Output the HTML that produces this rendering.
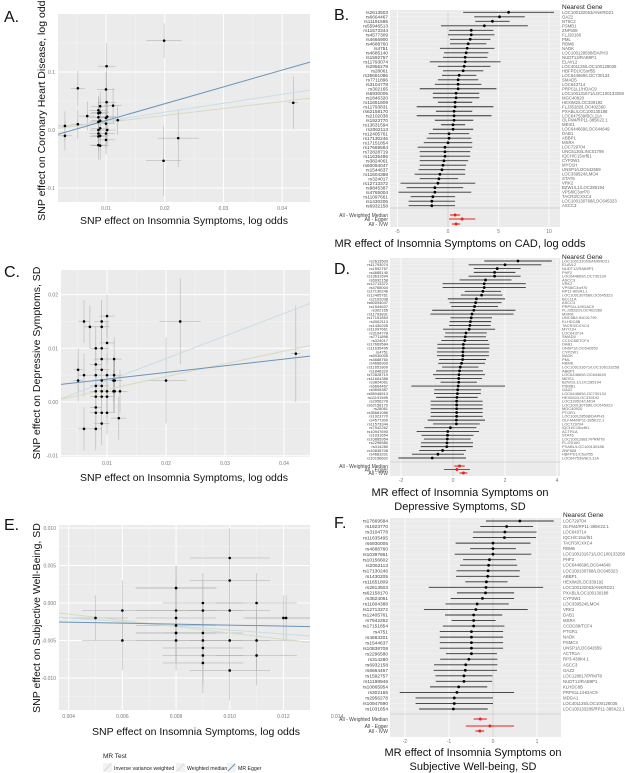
<!DOCTYPE html>
<html><head><meta charset="utf-8">
<style>
html,body{margin:0;padding:0;background:#fff;}
svg{display:block;font-family:"Liberation Sans",sans-serif;}
</style></head>
<body>
<svg id="fig" width="625" height="773" viewBox="0 0 625 773" xmlns="http://www.w3.org/2000/svg">
<g font-size="16" fill="#111">
<text x="4" y="22">A.</text>
<text x="334" y="20">B.</text>
<text x="4" y="277">C.</text>
<text x="334" y="274">D.</text>
<text x="4" y="530">E.</text>
<text x="334" y="528">F.</text>
</g>
<g font-size="10.5" fill="#111" text-anchor="middle">
<text x="184" y="224">SNP effect on Insomnia Symptoms, log odds</text>
<text transform="translate(45,108) rotate(-90)">SNP effect on Coronary Heart Disease, log odds</text>
<text x="184" y="481">SNP effect on Insomnia Symptoms, log odds</text>
<text transform="translate(40,363) rotate(-90)">SNP effect on Depressive Symptoms, SD</text>
<text x="196" y="735">SNP effect on Insomnia Symptoms, log odds</text>
<text transform="translate(40,618) rotate(-90)">SNP effect on Subjective Well-Being, SD</text>
<text x="460" y="247" font-size="11">MR effect of Insomnia Symptoms on CAD, log odds</text>
<text x="460" y="496" font-size="11">MR effect of Insomnia Symptoms on</text>
<text x="460" y="510" font-size="11">Depressive Symptoms, SD</text>
<text x="473" y="756" font-size="11">MR effect of Insomnia Symptoms on</text>
<text x="473" y="770" font-size="11">Subjective Well-being, SD</text>
</g>
<g font-size="5.2" fill="#222">
<text x="103" y="758" font-size="6.5">MR Test</text>
<rect x="103" y="763" width="9" height="9" fill="#f2f2f2"/>
<line x1="104" y1="771" x2="111" y2="764" stroke="#c8dde6" stroke-width="1"/>
<text x="114" y="770">Inverse variance weighted</text>
<rect x="176" y="763" width="9" height="9" fill="#f2f2f2"/>
<line x1="177" y1="771" x2="184" y2="764" stroke="#d5dcc0" stroke-width="1"/>
<text x="187" y="770">Weighted median</text>
<rect x="227" y="763" width="9" height="9" fill="#f2f2f2"/>
<line x1="228" y1="771" x2="235" y2="764" stroke="#6a93b8" stroke-width="1"/>
<text x="238" y="770">MR Egger</text>
</g>
</svg>
<script>
// ---------- Panel A data ----------
const aX=[0.0199,0.0101,0.0052,0.0100,0.0101,0.0112,0.0030,0.0030,0.0052,0.0068,0.0087,0.0087,0.0087,0.0087,0.0087,0.0087,0.0087,0.0087,0.0090,0.0090,0.0090,0.0090,0.0090,0.0090,0.0100,0.0100,0.0100,0.0100,0.0102,0.0102,0.0120,0.0223,0.0198,0.0419];
const aY=[0.154,0.110,0.072,0.070,0.048,0.042,0.007,-0.010,0.010,0.024,0.034,0.029,0.022,0.014,0.000,-0.006,-0.011,-0.026,0.041,0.030,0.016,0.003,-0.010,-0.027,0.021,0.011,-0.006,-0.017,0.023,0.000,0.017,-0.014,-0.053,0.047];
const aXe=[0.003,0.0015,0.0012,0.0015,0.0015,0.0015,0.0012,0.0012,0.0012,0.0014,0.0015,0.0015,0.0015,0.0015,0.0015,0.0015,0.0015,0.0015,0.0015,0.0015,0.0015,0.0015,0.0015,0.0015,0.0015,0.0015,0.0015,0.0015,0.0015,0.0015,0.0015,0.0035,0.003,0.0008];
const aYe=[0.03,0.04,0.03,0.03,0.03,0.03,0.025,0.025,0.025,0.025,0.025,0.025,0.025,0.025,0.025,0.025,0.025,0.025,0.025,0.025,0.025,0.025,0.025,0.025,0.025,0.025,0.025,0.025,0.025,0.025,0.025,0.05,0.06,0.045];
const aXTicks=[0.01,0.02,0.03,0.04];
const aXLabels=["0.01","0.02","0.03","0.04"];
const aYTicks=[0.1,0,-0.1];
const aYLabels=["0.1","0.0","-0.1"];
const aIvw=[1.53,0.0002];
const aWm=[1.2,0.001];
const aEgger=[2.9,-0.0127];

// ---------- Panel C data ----------
const cX=[0.0100,0.0061,0.0091,0.0071,0.0091,0.0100,0.0081,0.0091,0.0091,0.0112,0.0081,0.0051,0.0091,0.0061,0.0081,0.0100,0.0112,0.0051,0.0091,0.0111,0.0113,0.0081,0.0091,0.0081,0.0091,0.0100,0.0111,0.0113,0.0122,0.0081,0.0091,0.0100,0.0081,0.0081,0.0091,0.0100,0.0120,0.0091,0.0061,0.0081,0.0224,0.0200,0.0420];
const cY=[0.016,0.015,0.015,0.014,0.014,0.011,0.010,0.010,0.008,0.008,0.007,0.006,0.006,0.005,0.005,0.005,0.005,0.004,0.004,0.004,0.004,0.003,0.003,0.002,0.002,0.002,0.002,0.002,0.002,0.001,0.001,0.001,-0.001,-0.002,-0.002,-0.002,-0.003,-0.004,-0.005,-0.005,0.015,0.004,0.009];
const cXe=[0.0013,0.0010,0.0013,0.0010,0.0013,0.0013,0.0010,0.0013,0.0013,0.0013,0.0010,0.0008,0.0013,0.0010,0.0010,0.0013,0.0013,0.0008,0.0013,0.0013,0.0013,0.0010,0.0013,0.0010,0.0013,0.0013,0.0013,0.0013,0.0013,0.0010,0.0013,0.0013,0.0010,0.0010,0.0013,0.0013,0.0013,0.0013,0.0010,0.0010,0.0035,0.0035,0.0008];
const cYe=[0.004,0.004,0.004,0.004,0.004,0.004,0.004,0.004,0.004,0.004,0.004,0.004,0.004,0.004,0.004,0.004,0.004,0.004,0.004,0.004,0.004,0.004,0.004,0.004,0.004,0.004,0.004,0.004,0.004,0.004,0.004,0.004,0.004,0.004,0.004,0.004,0.004,0.004,0.004,0.004,0.008,0.008,0.009];
const cXTicks=[0.01,0.02,0.03,0.04];
const cXLabels=["0.01","0.02","0.03","0.04"];
const cYTicks=[0.02,0.01,0,-0.01];
const cYLabels=["0.02","0.01","0.00","-0.01"];
const cIvw=[0.42,-0.0003];
const cWm=[0.237,0.0];
const cEgger=[0.125,0.0030];

// ---------- Panel E data ----------
const eX=[0.0050,0.0060,0.0060,0.0080,0.0080,0.0080,0.0080,0.0080,0.0080,0.0080,0.0080,0.0090,0.0090,0.0090,0.0090,0.0090,0.0090,0.0090,0.0100,0.0100,0.0100,0.0100,0.0100,0.0110,0.0110,0.0110,0.0120,0.0121];
const eY=[-0.002,-0.001,-0.005,0.002,0.002,-0.002,-0.001,-0.003,-0.004,-0.004,-0.005,0.000,-0.001,-0.004,-0.005,-0.006,-0.007,-0.008,0.006,0.003,-0.001,-0.005,-0.009,0.000,-0.005,-0.007,-0.002,-0.002];
const eXe=[0.0012,0.0015,0.0015,0.0015,0.0015,0.0015,0.0015,0.0015,0.0015,0.0015,0.0015,0.0015,0.0015,0.0015,0.0015,0.0015,0.0015,0.0015,0.0015,0.0015,0.0015,0.0015,0.0015,0.0015,0.0015,0.0015,0.0015,0.0015];
const eYe=[0.003,0.004,0.004,0.003,0.003,0.004,0.004,0.004,0.004,0.004,0.004,0.004,0.004,0.004,0.004,0.004,0.004,0.004,0.004,0.004,0.004,0.004,0.004,0.004,0.004,0.004,0.003,0.003];
const eXTicks=[0.004,0.006,0.008,0.010,0.012,0.014];
const eXLabels=["0.004","0.006","0.008","0.010","0.012","0.014"];
const eYTicks=[0.010,0.005,0,-0.005,-0.010];
const eYLabels=["0.010","0.005","0.000","-0.005","-0.010"];
const eIvw=[-0.27,-0.0009];
const eWm=[-0.42,0.0002];
const eEgger=[-0.065,-0.0023];

// ---------- Panel B data ----------
const bSnps=["rs2613503","rs6664467","rs11191595","rs55946513","rs11573344","rs4577309","rs4666900","rs4688760","rs4751","rs4685140","rs1592757","rs11793074","rs2956278","rs28061","rs35681086","rs7711896","rs3104778","rs302165","rs6930005","rs1846320","rs11651809","rs11793831","rs62158170","rs2102038","rs1923770","rs13631594","rs2062113","rs12405761","rs17130246","rs17151854","rs17669584","rs72828719","rs11635495","rs3824061","rs60094047","rs1544637","rs11604388","rs324017","rs12713372","rs9845387","rs4765004","rs11097661","rs1430205","rs6932158"];
const bGenes=["LOC100132053/ANKRD21","OAZ2","NT5C2","PSMB1","ZNF608","FLJ20160","PML","RBM6","NADK","LOC100128508/DAPH3","NUDT12/RAB9P1","ELAVL2","LOC401125/LOC100128035","HBFPD1/C5orf55","LOC644669/LOC730134","SMAD5","LOC643714","PRPS1L1/HDAC9","LOC100131671/LOC100133258","MGC40920","HEXIM2/LOC339192","FLJ35282/LOC402360","PXABL/LOC100130188","LOC647539/BCL11A","OLFM4/RP11-385K22.1","MEIS1","LOC644669/LOC644649","DAB1","ABBP1","MSRA","LOC729704","UNC5130/LINC01799","IQCH/C15orf61","CYP2W1","MYO1H","UNSP1/LOC642659","LOC339524/LMO4","STAT6","VRK2","BZW1/L1/LOC285194","VPS8/C3orf70","TACR3/CXXC4","LOC100130768/LOC645323","ASCC3"];
const bEst=[6.0,5.1,4.4,3.6,2.3,2.3,2.2,2.0,1.9,1.8,1.7,1.7,1.6,1.5,1.1,1.0,1.0,1.0,0.8,0.8,0.7,0.7,0.6,0.6,0.6,0.5,0.5,0.1,0.1,0.0,-0.3,-0.3,-0.3,-0.4,-0.5,-0.6,-0.8,-0.9,-1.0,-1.3,-1.3,-1.5,-1.6,-1.6];
const bHw=[4.5,2.5,1.7,4.3,2.2,2.3,2.0,1.8,2.7,2.2,2.2,3.5,2.6,2.0,1.7,2.0,2.3,3.8,2.3,2.3,1.7,3.8,1.8,3.7,1.9,1.2,2.0,2.0,2.2,2.4,2.7,2.5,2.5,2.4,2.3,2.3,2.5,1.9,3.7,2.8,3.6,2.2,2.3,2.3];
const bSumNames=["All - Weighted Median","All - Egger","All - IVW"];
const bSumEst=[0.7,1.4,0.8];
const bSumHw=[0.5,1.3,0.4];
const bTicks=[-5,0,5,10];
const bTickLabels=["-5","0","5","10"];

// ---------- Panel D data ----------
const dSnps=["rs2613503","rs11793074","rs1592757","rs4685140","rs13631594","rs6932158","rs12713372","rs4765004","rs17130246","rs12405761","rs2102038","rs60094047","rs1544637","rs302165","rs11793831","rs17151854","rs2062113","rs1430205","rs11097661","rs3104778","rs7711896","rs324017","rs17669584","rs11635495","rs4751","rs6930005","rs4688760","rs4666900","rs11651809","rs1846320","rs72828719","rs11604388","rs3824061","rs6664467","rs9845387","rs55946513","rs11191595","rs2956278","rs62158170","rs28061","rs35681086","rs1923770","rs4577309","rs11573344","rs7942262","rs10947690","rs1031654","rs10865954","rs2296580","rs314280","rs10838708","rs4683201","rs10156602"];
const dGenes=["LOC100132053/ANKRD21","ELAVL2","NUDT12/RAB9P1","PHF2","LOC644669/LOC730134","ASCC3","VRK2","VPS8/C3orf70","RP11-809A1.1","LOC100130768/LOC645323","BCL11A","ASCC3","PRPS1L1/HDAC9","FLJ35282/LOC402360","MSRA","UNC5B/LINC01799","KLHDC8B","TACR3/CXXC4","MYO1H","LOC643714","SMAD5","CCDC88/TCF4","DAB1","UNSP1/LOC642659","CYP2W1","NADK","PML","RBM6","LOC100131671/LOC100133258","ABBP1","LOC644669/LOC644649","MEIS1","BZW1/L1/LOC285194","PSMB1","OAZ2","LOC644669/LOC730134","HEXIM2/LOC339192","LOC339524/LMO4","LOC100130768/LOC645323","MGC40920","PTGR1","LOC100128508/DAPH3","OLFM4/RP11-385K22.1","LOC729704","IQCH/C15orf61","ACTR1A","STAT6","LOC100128817/PRMT8","FLJ20160","PXABL/LOC100130188","ZNF608","HBFPD1/C5orf55","LOC647539/BCL11A"];
const dEst=[2.5,2.0,1.7,1.6,1.6,1.25,1.2,1.2,1.15,1.1,0.9,0.87,0.83,0.8,0.73,0.7,0.67,0.65,0.62,0.5,0.47,0.45,0.4,0.4,0.38,0.38,0.37,0.33,0.28,0.25,0.23,0.22,0.22,0.2,0.18,0.17,0.15,0.14,0.14,0.14,0.14,0.14,0.13,0.13,-0.1,-0.2,-0.21,-0.22,-0.23,-0.24,-0.4,-0.58,-0.8];
const dHw=[1.3,1.4,0.9,0.8,1.0,1.0,1.6,1.6,0.7,0.8,1.1,1.0,0.9,1.6,1.6,0.8,0.8,0.8,1.0,0.8,0.8,0.9,1.0,1.0,1.0,1.0,0.9,0.9,0.7,0.9,1.0,0.9,0.7,1.8,0.9,0.9,0.8,1.0,1.0,1.0,1.0,1.0,1.1,0.9,1.0,1.2,1.0,0.9,1.0,1.0,0.9,1.0,1.3];
const dSumNames=["All - Weighted Median","All - Egger","All - IVW"];
const dSumEst=[0.25,0.15,0.4];
const dSumHw=[0.2,0.5,0.15];
const dTicks=[-2,0,2,4];
const dTickLabels=["-2","0","2","4"];

// ---------- Panel F data ----------
const fSnps=["rs17669584","rs1923770","rs3104778","rs11635495","rs6930005","rs4688760","rs10397861","rs10156602","rs2062113","rs17130246","rs1430205","rs11651809","rs2613503","rs62158170","rs3824061","rs11604388","rs12713372","rs12405761","rs7942262","rs17151854","rs4751","rs4683201","rs1544637","rs10838708","rs2296580","rs314280","rs6932158","rs6664467","rs1592757","rs11198946","rs10865954","rs302165","rs2956278","rs10947690","rs1031654"];
const fGenes=["LOC729704","OLFM4/RP11-385K22.1","LOC643714","IQCH/C15orf61","TACR3/CXXC4","RBM6","LOC100131671/LOC100133258","PHF2","LOC644669/LOC644649","LOC100130768/LOC645323","ABBP1","HEXIM2/LOC339192","LOC100132053/ANKRD21","PXABL/LOC100130188","CYP2W1","LOC339524/LMO4","VRK2","DAB1","MSRA","CCDC88/TCF4","PTGR1","NADK","PSMC3","UNSP1/LOC642659","ACTR1A","RP3-438K4.1","ASCC3","OAZ2","LOC128817/PRMT8","NUDT12/RAB9P1","KLHDC8B","PRPS1L1/HDAC9","MDGA1","LOC401125/LOC100128035","LOC100133285/RP11-385K22.1"];
const fEst=[0.61,0.31,0.27,0.26,0.0,0.0,0.0,-0.08,-0.1,-0.11,-0.12,-0.15,-0.16,-0.17,-0.24,-0.36,-0.39,-0.44,-0.44,-0.44,-0.49,-0.49,-0.49,-0.49,-0.49,-0.55,-0.62,-0.63,-0.66,-0.66,-0.78,-0.82,-0.88,-0.88,-0.9];
const fHw=[0.77,0.6,0.72,0.72,0.85,0.52,0.87,0.6,0.65,0.72,0.72,0.48,1.3,0.65,0.72,0.72,1.18,0.65,0.5,0.7,0.72,0.72,0.72,0.72,0.58,0.65,0.72,0.72,0.65,0.64,0.65,1.3,0.88,0.88,0.78];
const fSumNames=["All - Weighted Median","All - Egger","All - IVW"];
const fSumEst=[-0.29,-0.07,-0.3];
const fSumHw=[0.15,0.55,0.1];
const fTicks=[-2,-1,0,1];
const fTickLabels=["-2","-1","0","1"];

const NS="http://www.w3.org/2000/svg";
const svg=document.getElementById('fig');
function mk(tag,attrs,parent){const e=document.createElementNS(NS,tag);for(const k in attrs)e.setAttribute(k,attrs[k]);(parent||svg).appendChild(e);return e;}

function scatter(id,C,X,Y,Xe,Ye,xT,xL,yT,yL,ivw,wm,egger){
  const g=mk('g',{});
  
  
  const sx=v=>C.px0+(v-C.dx0)/(C.dx1-C.dx0)*(C.px1-C.px0);
  const sy=v=>C.py1-(v-C.dy0)/(C.dy1-C.dy0)*(C.py1-C.py0);
  const bg=mk('rect',{x:C.px0,y:C.py0,width:C.px1-C.px0,height:C.py1-C.py0,fill:'#ebebeb'},g);
  
  
  const clipId='clip'+id;
  const cp=mk('clipPath',{id:clipId},g);mk('rect',{x:C.px0,y:C.py0,width:C.px1-C.px0,height:C.py1-C.py0},cp);
  const inner=mk('g',{'clip-path':'url(#'+clipId+')'},g);
  const xs=xT[1]-xT[0], ys=yT[0]-yT[1];
  for(let v=xT[0]-xs*3;v<=xT[xT.length-1]+xs*3;v+=xs){
    mk('line',{x1:sx(v+xs/2),x2:sx(v+xs/2),y1:C.py0,y2:C.py1,stroke:'#f6f6f6','stroke-width':0.5},inner);
  }
  for(let v=yT[yT.length-1]-ys*3;v<=yT[0]+ys*3;v+=ys){
    mk('line',{y1:sy(v+ys/2),y2:sy(v+ys/2),x1:C.px0,x2:C.px1,stroke:'#f6f6f6','stroke-width':0.5},inner);
  }
  xT.forEach((v,i)=>{
    mk('line',{x1:sx(v),x2:sx(v),y1:C.py0,y2:C.py1,stroke:'#fff','stroke-width':1},inner);
    const t=mk('text',{x:sx(v),y:C.py1+8,'font-size':5,'text-anchor':'middle',fill:'#777'});t.textContent=xL[i];
    
    
  });
  yT.forEach((v,i)=>{
    mk('line',{y1:sy(v),y2:sy(v),x1:C.px0,x2:C.px1,stroke:'#fff','stroke-width':1},inner);
    const t=mk('text',{x:C.px0-3,y:sy(v)+2,'font-size':5,'text-anchor':'end',fill:'#777'});t.textContent=yL[i];
    
    
  });
  X.forEach((x,i)=>{
    const h=mk('line',{x1:sx(x-Xe[i]),x2:sx(x+Xe[i]),y1:sy(Y[i]),y2:sy(Y[i]),stroke:'#aaa','stroke-width':0.5},inner);
    
    
    const v=mk('line',{x1:sx(x),x2:sx(x),y1:sy(Y[i]-Ye[i]),y2:sy(Y[i]+Ye[i]),stroke:'#aaa','stroke-width':0.5},inner);
    
    
  });
  [[ivw,'#c8dde6','ivw-line'],[wm,'#d5dcc0','weighted-median-line'],[egger,'#6a93b8','egger-line']].forEach(([p,col,nm])=>{
    const l=mk('line',{x1:sx(C.dx0),y1:sy(p[0]*C.dx0+p[1]),x2:sx(C.dx1),y2:sy(p[0]*C.dx1+p[1]),stroke:col,'stroke-width':1},inner);
    
    
  });
  X.forEach((x,i)=>{
    const c=mk('circle',{cx:sx(x),cy:sy(Y[i]),r:1.3,fill:'#000'},inner);
    
    
  });
}

function forest(id,C,snps,genes,est,hw,sumN,sumE,sumH,ticks,tickL){
  const g=mk('g',{});
  
  
  const sx=v=>C.zero+v*C.unit;
  const bg=mk('rect',{x:C.px0,y:C.py0,width:C.px1-C.px0,height:C.py1-C.py0,fill:'#ebebeb'},g);
  
  
  const clipId='clip'+id;
  const cp=mk('clipPath',{id:clipId},g);mk('rect',{x:C.px0,y:C.py0,width:C.px1-C.px0,height:C.py1-C.py0},cp);
  const inner=mk('g',{'clip-path':'url(#'+clipId+')'},g);
  const n=snps.length;
  const ry=i=>C.r0+i*(C.r1-C.r0)/(n-1);
  ticks.forEach((v,i)=>{
    mk('line',{x1:sx(v),x2:sx(v),y1:C.py0,y2:C.py1,stroke:'#fff','stroke-width':0.8},inner);
    const t=mk('text',{x:sx(v),y:C.py1+6,'font-size':5,'text-anchor':'middle',fill:'#777'});t.textContent=tickL[i];
    
    
  });
  mk('line',{x1:sx(0),x2:sx(0),y1:C.py0,y2:C.py1,stroke:'#bbb','stroke-width':0.6},inner);
  for(let i=0;i<n;i++) mk('line',{x1:C.px0,x2:C.px1,y1:ry(i),y2:ry(i),stroke:'#f7f7f7','stroke-width':0.4},inner);
  mk('line',{x1:C.px0,x2:C.px1,y1:C.sep,y2:C.sep,stroke:'#bbb','stroke-width':0.6},inner);
  const fs=Math.min(4.8,(C.r1-C.r0)/(n-1)*1.05);
  const gfs=Math.min(4.3,fs);
  for(let i=0;i<n;i++){
    const y=ry(i);
    const l=mk('line',{x1:sx(est[i]-hw[i]),x2:sx(est[i]+hw[i]),y1:y,y2:y,stroke:'#333','stroke-width':0.9},inner);
    
    
    const p=mk('circle',{cx:sx(est[i]),cy:y,r:1.4,fill:'#000'},inner);
    
    
    const t=mk('text',{x:C.px0-2,y:y+fs*0.35,'font-size':fs,'text-anchor':'end',fill:'#444'});t.textContent=snps[i];
    
    
    const gt=mk('text',{x:C.px1+2,y:y+gfs*0.35,'font-size':gfs,fill:'#666'});gt.textContent=genes[i];
    
    
  }
  sumN.forEach((nm,i)=>{
    const y=C.s[i];
    const l=mk('line',{x1:sx(sumE[i]-sumH[i]),x2:sx(sumE[i]+sumH[i]),y1:y,y2:y,stroke:'#e8221c','stroke-width':1.1},inner);
    
    
    const p=mk('circle',{cx:sx(sumE[i]),cy:y,r:1.5,fill:'#e8221c'},inner);
    
    
    const t=mk('text',{x:C.px0-2,y:y+1.8,'font-size':5,'text-anchor':'end',fill:'#444'});t.textContent=nm;
    
    
  });
  const h=mk('text',{x:C.px1+2,y:C.head,'font-size':6.5,fill:'#222'});h.textContent='Nearest Gene';
  
  
}

scatter('a',{px0:58,px1:310,py0:14,py1:202,dx0:0.00182,dx1:0.04475,dy0:-0.1241,dy1:0.2}, aX,aY,aXe,aYe,aXTicks,aXLabels,aYTicks,aYLabels,aIvw,aWm,aEgger);
scatter('c',{px0:61,px1:310,py0:270,py1:457,dx0:0.0022,dx1:0.0444,dy0:-0.01024,dy1:0.02458}, cX,cY,cXe,cYe,cXTicks,cXLabels,cYTicks,cYLabels,cIvw,cWm,cEgger);
scatter('e',{px0:59,px1:310,py0:525,py1:710,dx0:0.00364,dx1:0.01299,dy0:-0.01427,dy1:0.0104}, eX,eY,eXe,eYe,eXTicks,eXLabels,eYTicks,eYLabels,eIvw,eWm,eEgger);

forest('b',{px0:390,px1:560,py0:10,py1:227,zero:448,unit:10.1,r0:12.3,r1:205.7,sep:208,s:[215,219,224],head:9}, bSnps,bGenes,bEst,bHw,bSumNames,bSumEst,bSumHw,bTicks,bTickLabels);
forest('d',{px0:390,px1:560,py0:258,py1:476,zero:453,unit:26,r0:261,r1:458,sep:462,s:[466,469.5,473],head:259}, dSnps,dGenes,dEst,dHw,dSumNames,dSumEst,dSumHw,dTicks,dTickLabels);
forest('f',{px0:390,px1:561,py0:518,py1:737,zero:493,unit:44,r0:521,r1:709,sep:714,s:[719,726,731],head:517}, fSnps,fGenes,fEst,fHw,fSumNames,fSumEst,fSumHw,fTicks,fTickLabels);
</script>
</body></html>
